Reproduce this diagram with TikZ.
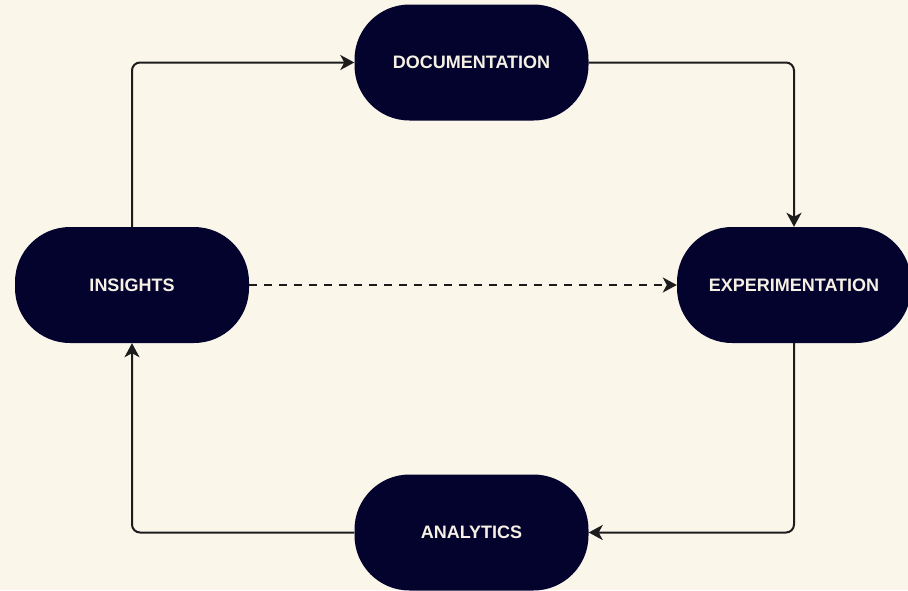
\documentclass[tikz,border=0pt]{standalone}
\usepackage{fontspec}
\setmainfont{Liberation Sans}
\usetikzlibrary{arrows.meta}
\definecolor{cream}{HTML}{FAF6EA}
\definecolor{navy}{HTML}{03032E}
\definecolor{ink}{HTML}{1C1C1C}
\definecolor{paper}{HTML}{F6F1E4}
\tikzset{
  pill/.style={rectangle, rounded corners=55pt, fill=navy, text=paper,
    minimum width=234pt, minimum height=116pt, font=\fontsize{18}{21}\selectfont\bfseries},
  flow/.style={draw=ink, line width=2pt, rounded corners=8pt, -{Stealth[length=14pt,width=15pt,inset=4pt]}}
}
\begin{document}
\begin{tikzpicture}[x=1pt,y=-1pt]
      \fill[cream] (0,0) rectangle (908,590);
      \useasboundingbox (0,0) rectangle (908,590);
      \draw
        (471.5,62.5) node[pill] (doc){DOCUMENTATION}
        (132,285) node[pill] (ins){INSIGHTS}
        (794,285) node[pill] (exp){EXPERIMENTATION}
        (471.5,532.5) node[pill] (ana){ANALYTICS};
      \begin{scope}[flow]
        \draw (ins.north) |- (doc.west);
        \draw (doc.east) -| (exp.north);
        \draw (exp.south) |- (ana.east);
        \draw (ana.west) -| (ins.south);
        \draw[dashed, dash pattern=on 8pt off 7pt] (ins.east) -- (exp.west);
      \end{scope}
    \end{tikzpicture}
\end{document}
